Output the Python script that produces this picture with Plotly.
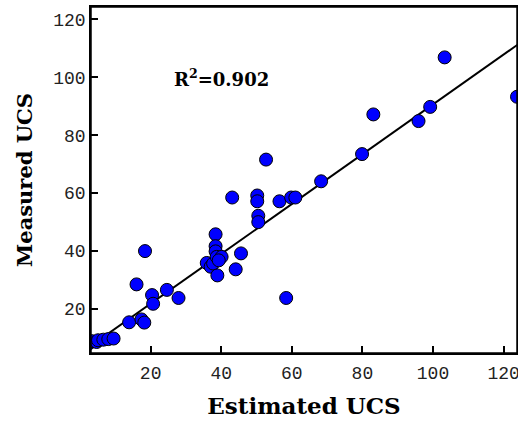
import plotly.graph_objects as go

# Estimated vs measured UCS
estimated = [2.6, 3.3, 4.7, 5.1, 6.6, 8.0, 9.5, 13.9, 17.4, 18.2, 16.0, 18.4,
             20.4, 20.7, 24.6, 27.9, 35.9, 37.0, 37.7, 38.4, 38.4, 38.4, 38.7,
             40.1, 39.3, 38.9, 44.1, 45.6, 43.1, 50.2, 50.2, 50.5, 50.5, 52.7,
             56.5, 59.8, 61.0, 58.4, 68.3, 79.9, 83.1, 95.9, 99.2, 103.3, 123.8]
measured = [8.2, 8.9, 8.6, 9.2, 9.4, 9.6, 9.8, 15.4, 16.4, 15.3, 28.5, 40.0,
            24.8, 21.8, 26.6, 23.8, 35.9, 34.6, 35.7, 45.8, 41.7, 39.9, 38.0,
            38.0, 36.8, 31.6, 33.7, 39.2, 58.5, 59.2, 57.2, 52.2, 50.0, 71.6,
            57.2, 58.5, 58.5, 23.8, 64.1, 73.5, 87.2, 84.9, 89.8, 106.9, 93.3]

# fitted line end points
fit_x = [3.0, 124.0]
fit_y = [7.2, 111.3]

r2_text = "R<sup>2</sup>=0.902"
tick_vals = [20, 40, 60, 80, 100, 120]

fig = go.Figure()

fig.add_trace(go.Scatter(
    x=fit_x, y=fit_y, mode="lines",
    line=dict(color="black", width=2),
    showlegend=False, hoverinfo="skip"
))

fig.add_trace(go.Scatter(
    x=estimated, y=measured, mode="markers",
    marker=dict(color="#0000FF", size=13, line=dict(color="black", width=1)),
    showlegend=False
))

fig.add_annotation(
    x=26.0, y=99.8, xref="x", yref="y", xanchor="left", yanchor="middle",
    text=r2_text, showarrow=False,
    font=dict(family="DejaVu Serif", size=18, color="black", weight="bold")
)

axis_style = dict(
    showline=True, linecolor="black", linewidth=1.5, mirror=True,
    ticks="inside", ticklen=7, tickcolor="black", tickwidth=1.5,
    showgrid=False, zeroline=False, tickvals=tick_vals, automargin=False,
    ticklabeloverflow="allow",
    tickfont=dict(family="Liberation Mono", size=18, color="#222222"),
)

fig.update_xaxes(
    range=[3.1, 123.8], ticklabelstandoff=3,
    title=dict(text="Estimated UCS",
               font=dict(family="DejaVu Serif", size=23, color="black", weight="bold")),
    **axis_style
)
fig.update_yaxes(
    range=[4.8, 124.3],
    title=dict(text="Measured UCS",
               font=dict(family="DejaVu Serif", size=21, color="black", weight=600)),
    **axis_style
)

# frame drawn on top of the plot area so all four sides show
fig.add_shape(type="rect", xref="paper", yref="paper", x0=0, y0=0, x1=1, y1=1,
              line=dict(color="black", width=1.5), layer="above")

fig.update_layout(
    width=518, height=421,
    margin=dict(l=91, r=1, t=7, b=68),
    paper_bgcolor="white", plot_bgcolor="white",
)

# drop the default page margin so the figure sits at the window's corner
fig.write_html("out.html", config={"displayModeBar": False},
               post_script="document.body.style.margin='0';")
